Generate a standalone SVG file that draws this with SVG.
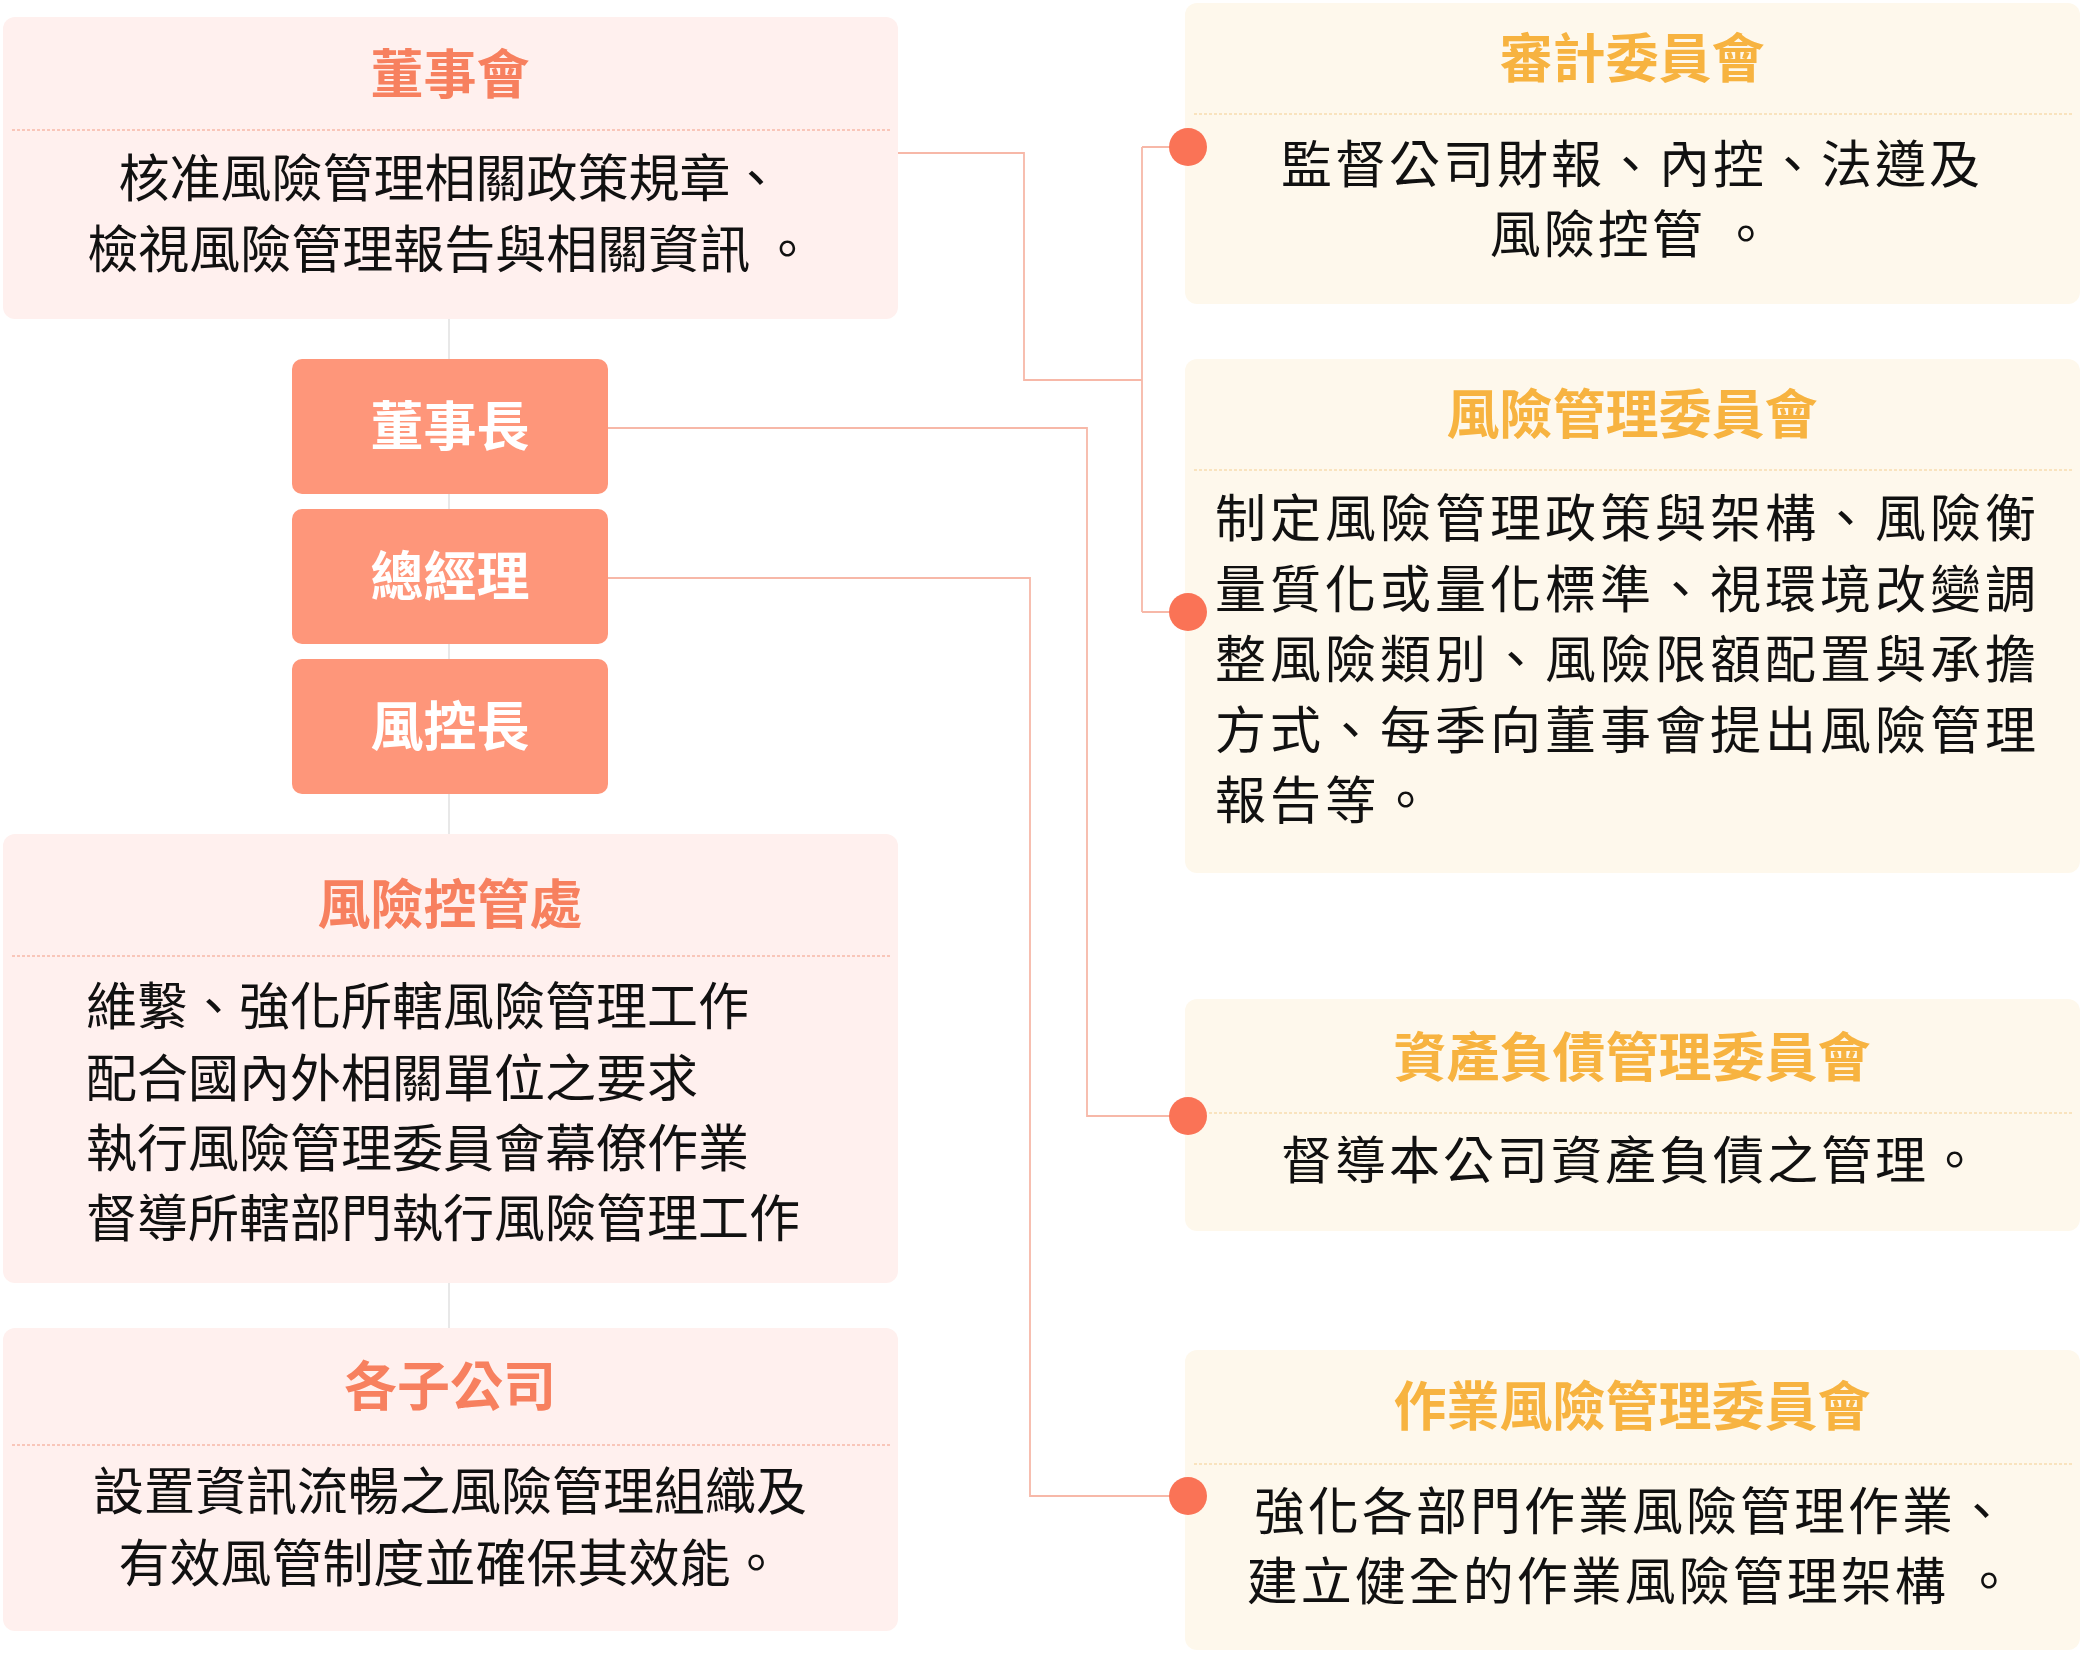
<svg xmlns="http://www.w3.org/2000/svg" width="2083" height="1654" viewBox="0 0 2083 1654">
<style>
text{font-family:"Noto Sans CJK TC","Noto Sans CJK SC",sans-serif;}
.lb{fill:#fff0ee;}
.rb{fill:#fef8ec;}
.lt{fill:#f7805f;font-size:53px;font-weight:bold;text-anchor:middle;}
.rt{fill:#f7b340;font-size:53px;font-weight:bold;text-anchor:middle;}
.bd{fill:#111;font-size:51px;}
.c{text-anchor:middle;}
.nd{fill:#fe967a;}
.nt{fill:#fff;font-size:53px;font-weight:bold;text-anchor:middle;}
.ld{stroke:#f7b8a8;stroke-width:1.5;stroke-dasharray:3 2;}
.rd{stroke:#f7dcae;stroke-width:1.5;stroke-dasharray:3 2;}
.cn{fill:none;stroke:#f7b8a8;stroke-width:1.8;}
.cv{fill:none;stroke:#e6e6e6;stroke-width:1.8;}
.dot{fill:#fa7356;}
</style>
<g id="connectors">
<path class="cv" d="M449 319V834M449 1283V1328"/>
<path class="cn" d="M898 153H1024V380H1142M1142 147V612M1142 147H1186M1142 612H1186"/>
<path class="cn" d="M608 428H1087V1116H1186"/>
<path class="cn" d="M608 578H1030V1496H1186"/>
</g>
<g id="board">
<rect class="lb" x="3" y="17" width="895" height="302" rx="12"/>
<text class="lt" x="450" y="94">董事會</text>
<line class="ld" x1="12" y1="130" x2="890" y2="130"/>
<text class="bd c" x="450" y="197">核准風險管理相關政策規章、</text>
<text class="bd c" x="450" y="268">檢視風險管理報告與相關資訊 。</text>
</g>
<g id="chairman"><rect class="nd" x="292" y="359" width="316" height="135" rx="10"/><text class="nt" x="450" y="446">董事長</text></g>
<g id="gm"><rect class="nd" x="292" y="509" width="316" height="135" rx="10"/><text class="nt" x="450" y="596">總經理</text></g>
<g id="cro"><rect class="nd" x="292" y="659" width="316" height="135" rx="10"/><text class="nt" x="450" y="746">風控長</text></g>
<g id="riskdept">
<rect class="lb" x="3" y="834" width="895" height="449" rx="12"/>
<text class="lt" x="450" y="924">風險控管處</text>
<line class="ld" x1="12" y1="956" x2="890" y2="956"/>
<text class="bd" x="86" y="1025">維繫、強化所轄風險管理工作</text>
<text class="bd" x="86" y="1097">配合國內外相關單位之要求</text>
<text class="bd" x="86" y="1167">執行風險管理委員會幕僚作業</text>
<text class="bd" x="86" y="1237">督導所轄部門執行風險管理工作</text>
</g>
<g id="subs">
<rect class="lb" x="3" y="1328" width="895" height="303" rx="12"/>
<text class="lt" x="450" y="1406">各子公司</text>
<line class="ld" x1="12" y1="1445" x2="890" y2="1445"/>
<text class="bd c" x="450" y="1510">設置資訊流暢之風險管理組織及</text>
<text class="bd c" x="450" y="1582">有效風管制度並確保其效能。</text>
</g>
<g id="audit">
<rect class="rb" x="1185" y="3" width="895" height="301" rx="12"/>
<text class="rt" x="1632" y="78">審計委員會</text>
<line class="rd" x1="1194" y1="114" x2="2072" y2="114"/>
<text class="bd c" x="1632" y="183" letter-spacing="3">監督公司財報、內控、法遵及</text>
<text class="bd c" x="1632" y="253" letter-spacing="3">風險控管 。</text>
</g>
<g id="riskcom">
<rect class="rb" x="1185" y="359" width="895" height="514" rx="12"/>
<text class="rt" x="1632" y="434">風險管理委員會</text>
<line class="rd" x1="1194" y1="470" x2="2072" y2="470"/>
<text class="bd" x="1215" y="537" letter-spacing="4">制定風險管理政策與架構、風險衡</text>
<text class="bd" x="1215" y="608" letter-spacing="4">量質化或量化標準、視環境改變調</text>
<text class="bd" x="1215" y="678" letter-spacing="4">整風險類別、風險限額配置與承擔</text>
<text class="bd" x="1215" y="749" letter-spacing="4">方式、每季向董事會提出風險管理</text>
<text class="bd" x="1215" y="819" letter-spacing="4">報告等。</text>
</g>
<g id="alm">
<rect class="rb" x="1185" y="999" width="895" height="232" rx="12"/>
<text class="rt" x="1632" y="1077">資產負債管理委員會</text>
<line class="rd" x1="1194" y1="1113" x2="2072" y2="1113"/>
<text class="bd c" x="1632" y="1179" letter-spacing="3">督導本公司資產負債之管理。</text>
</g>
<g id="oprisk">
<rect class="rb" x="1185" y="1350" width="895" height="300" rx="12"/>
<text class="rt" x="1632" y="1426">作業風險管理委員會</text>
<line class="rd" x1="1194" y1="1464" x2="2072" y2="1464"/>
<text class="bd c" x="1632" y="1530" letter-spacing="3">強化各部門作業風險管理作業、</text>
<text class="bd c" x="1632" y="1600" letter-spacing="3">建立健全的作業風險管理架構 。</text>
</g>
<g id="dots">
<circle class="dot" cx="1188" cy="147" r="19"/>
<circle class="dot" cx="1188" cy="612" r="19"/>
<circle class="dot" cx="1188" cy="1116" r="19"/>
<circle class="dot" cx="1188" cy="1496" r="19"/>
</g>
</svg>
